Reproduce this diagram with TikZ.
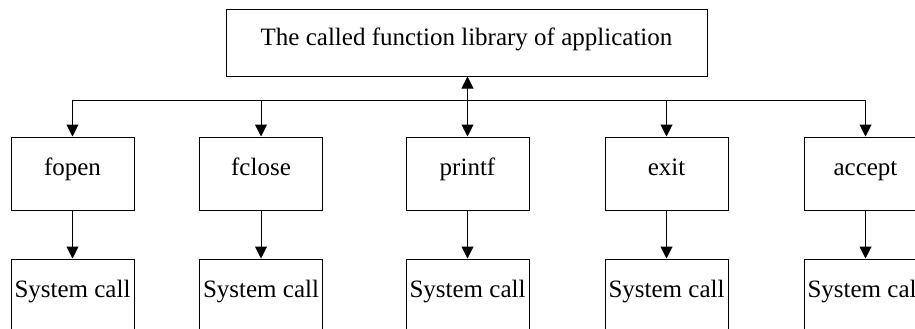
\documentclass[tikz,border=0pt]{standalone}
\usepackage{fontspec}
\setmainfont{Liberation Serif}
\usetikzlibrary{arrows.meta}

\tikzset{
  box/.style={draw, line width=1pt, minimum width=123pt, minimum height=73pt, inner sep=0pt, text height=0.68em, text depth=0.22em, font=\fontsize{25}{30}\selectfont},
  link/.style={line width=1pt, -{Triangle[length=12pt,width=12pt]}}
}

\begin{document}
\begin{tikzpicture}[x=1pt, y=-1pt]
\useasboundingbox (0,0) rectangle (915,329);
\clip (0,0) rectangle (915,329);
% top
\node [box, minimum width=481pt, minimum height=66pt] (app) at (466.5,43) {The called function library of application};
% library functions
\node [box] (fopen) at (72.5,173.5) {fopen};
\node [box] (fclose) at (261,173.5) {fclose};
\node [box] (printf) at (467.5,173.5) {printf};
\node [box] (exit) at (666.5,173.5) {exit};
\node [box] (accept) at (865.5,173.5) {accept};
% system calls
\node [box] (sys1) at (72.5,295.5) {System call};
\node [box] (sys2) at (261,295.5) {System call};
\node [box] (sys3) at (467.5,295.5) {System call};
\node [box] (sys4) at (666.5,295.5) {System call};
\node [box] (sys5) at (865.5,295.5) {System call};
\coordinate (bus) at (0,100);
\draw [link, {Triangle[length=12pt,width=12pt]}-{Triangle[length=12pt,width=12pt]}] (app.south -| printf) -- (printf.north);
\draw [line width=1pt] (fopen.north |- bus) -- (accept.north |- bus);
\foreach \f in {fopen, fclose, exit, accept}
  \draw [link] (\f.north |- bus) -- (\f.north);
\foreach \f/\s in {fopen/sys1, fclose/sys2, printf/sys3, exit/sys4, accept/sys5}
  \draw [link] (\f) -- (\s);
\end{tikzpicture}
\end{document}
